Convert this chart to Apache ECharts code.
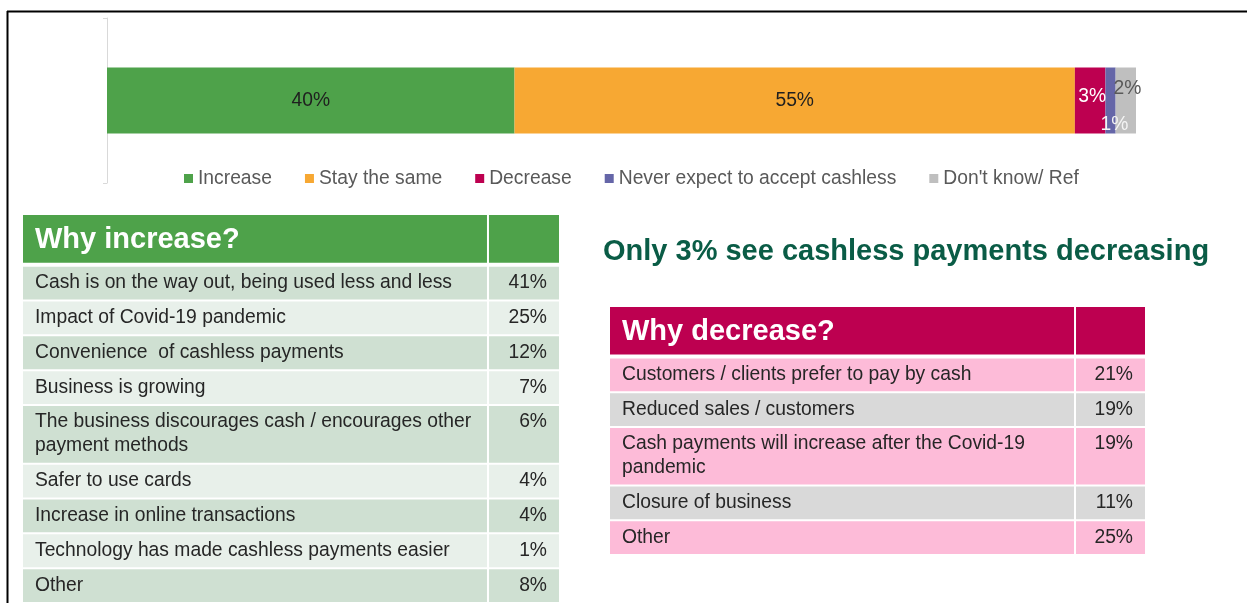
<!DOCTYPE html>
<html>
<head>
<meta charset="utf-8">
<script src="https://cdn.jsdelivr.net/npm/echarts@6/dist/echarts.min.js"></script>
<style>
html, body { margin: 0; background: #fff; }
#chart { width: 1247px; height: 603px; }
</style>
</head>
<body>
<div id="chart"></div>
<script>
// 预期变化（堆叠条）
const outlookNames = ['Increase', 'Stay the same', 'Decrease', 'Never expect to accept cashless', "Don't know/ Ref"];
const outlookValues = [40, 55, 3, 1, 2];

// 原因表
const increaseTitle = 'Why increase?';
const increaseReasons = [
	'Cash is on the way out, being used less and less',
	'Impact of Covid-19 pandemic',
	'Convenience  of cashless payments',
	'Business is growing',
	'The business discourages cash / encourages other\npayment methods',
	'Safer to use cards',
	'Increase in online transactions',
	'Technology has made cashless payments easier',
	'Other'
];
const increaseShares = [41, 25, 12, 7, 6, 4, 4, 1, 8];

const decreaseTitle = 'Why decrease?';
const decreaseReasons = [
	'Customers / clients prefer to pay by cash',
	'Reduced sales / customers',
	'Cash payments will increase after the Covid-19\npandemic',
	'Closure of business',
	'Other'
];
const decreaseShares = [21, 19, 19, 11, 25];

const headline = 'Only 3% see cashless payments decreasing';

const FONT = "'Liberation Sans', Arial, sans-serif";
const outlookColors = ['#4ea24a', '#f7a833', '#bd0050', '#6566a8', '#bfbfbf'];

// 每段标签的位置
const outlookLabels = [
	{ position: 'inside', color: '#1f1f1f' },
	{ position: 'inside', color: '#1f1f1f' },
	{ position: 'inside', color: '#ffffff', offset: [2, -4] },
	{ position: [-5, 57], align: 'left', verticalAlign: 'middle', color: '#f4f4f4' },
	{ position: [-2, 21], align: 'left', verticalAlign: 'middle', color: '#595959' }
];

// 表格行：[起点, 终点, 序号]，-1 为表头
const HEAD_UNITS = 1.457;
const EXTRA_LINE = 0.686;
function tableRows(reasons) {
	const rows = [[0, HEAD_UNITS, -1]];
	let y = HEAD_UNITS;
	reasons.forEach((r, i) => {
		const h = 1 + EXTRA_LINE * (r.split('\n').length - 1);
		rows.push([y, y + h, i]);
		y += h;
	});
	return rows;
}

function tableSeries(idx, title, reasons, shares, split, headColor, rowColors) {
	return {
		type: 'custom',
		xAxisIndex: idx,
		yAxisIndex: idx,
		silent: true,
		clip: false,
		data: tableRows(reasons),
		renderItem: function(params, api) {
			const i = api.value(2);
			const head = i < 0;
			const p0 = api.coord([0, api.value(0)]);
			const p1 = api.coord([1, api.value(1)]);
			const sx = api.coord([split, 0])[0];
			const top = p0[1] + (head ? 0 : 1);
			const bottom = p1[1] - (head ? 3 : 1);
			const fill = head ? headColor : rowColors[i % 2];
			const children = [
				{ type: 'rect', shape: { x: p0[0], y: top, width: sx - 1 - p0[0], height: bottom - top }, style: { fill: fill } },
				{ type: 'rect', shape: { x: sx + 1, y: top, width: p1[0] - sx - 1, height: bottom - top }, style: { fill: fill } }
			];
			if (head) {
				children.push({
					type: 'text', x: p0[0] + 12, y: (top + bottom) / 2 + 1,
					style: { text: title, fill: '#ffffff', fontSize: 29, fontWeight: 'bold', fontFamily: FONT, align: 'left', verticalAlign: 'middle' }
				});
			} else {
				children.push({
					type: 'text', x: p0[0] + 12, y: top + 4,
					style: { text: reasons[i], fill: '#262626', fontSize: 19.3, lineHeight: 24, fontFamily: FONT, align: 'left', verticalAlign: 'top' }
				});
				children.push({
					type: 'text', x: p1[0] - 12, y: top + 4,
					style: { text: shares[i] + '%', fill: '#262626', fontSize: 19.3, lineHeight: 24, fontFamily: FONT, align: 'right', verticalAlign: 'top' }
				});
			}
			return { type: 'group', children: children };
		}
	};
}

const incRows = tableRows(increaseReasons);
const decRows = tableRows(decreaseReasons);
const total = outlookValues.reduce((a, b) => a + b, 0);

const chart = echarts.init(document.getElementById('chart'));
const option = {
	backgroundColor: '#ffffff',
	animation: false,
	textStyle: { fontFamily: FONT },
	title: {
		text: headline,
		left: 598,
		top: 232,
		textStyle: { fontSize: 29, fontWeight: 'bold', color: '#0a5c46', fontFamily: FONT }
	},
	legend: {
		data: outlookNames,
		left: 179,
		top: 164,
		icon: 'rect',
		itemWidth: 9,
		itemHeight: 9,
		itemGap: 33,
		selectedMode: false,
		textStyle: { fontSize: 19.3, color: '#595959', fontFamily: FONT }
	},
	grid: [
		{ left: 107, top: 18, width: 1029, height: 165 },
		{ left: 23, top: 215, width: 536, height: 390 },
		{ left: 610, top: 307, width: 535, height: 248 }
	],
	xAxis: [
		{ gridIndex: 0, type: 'value', min: 0, max: total, show: false },
		{ gridIndex: 1, type: 'value', min: 0, max: 1, show: false },
		{ gridIndex: 2, type: 'value', min: 0, max: 1, show: false }
	],
	yAxis: [
		{
			gridIndex: 0, type: 'category', data: [''],
			axisLine: { lineStyle: { color: '#d9d9d9' } },
			axisTick: { show: true, length: 4, lineStyle: { color: '#d9d9d9' } },
			axisLabel: { show: false }
		},
		{ gridIndex: 1, type: 'value', inverse: true, min: 0, max: incRows[incRows.length - 1][1], show: false },
		{ gridIndex: 2, type: 'value', inverse: true, min: 0, max: decRows[decRows.length - 1][1], show: false }
	],
	series: outlookNames.map((name, i) => ({
		name: name,
		type: 'bar',
		stack: 'outlook',
		barWidth: 66,
		itemStyle: { color: outlookColors[i] },
		label: Object.assign({ show: true, formatter: '{c}%', fontSize: 19.3, fontFamily: FONT }, outlookLabels[i]),
		data: [outlookValues[i]]
	})).concat([
		tableSeries(1, increaseTitle, increaseReasons, increaseShares, 0.8675, '#4ea24a', ['#cfe0d2', '#e8f0ea']),
		tableSeries(2, decreaseTitle, decreaseReasons, decreaseShares, 0.8692, '#bd0050', ['#fdbbd8', '#d9d9d9'])
	]),
	graphic: [
		{ type: 'line', shape: { x1: 7, y1: 11.5, x2: 1247, y2: 11.5 }, style: { stroke: '#000', lineWidth: 2 }, silent: true },
		{ type: 'line', shape: { x1: 7.5, y1: 11, x2: 7.5, y2: 603 }, style: { stroke: '#000', lineWidth: 2 }, silent: true }
	]
};
chart.setOption(option);
</script>
</body>
</html>
